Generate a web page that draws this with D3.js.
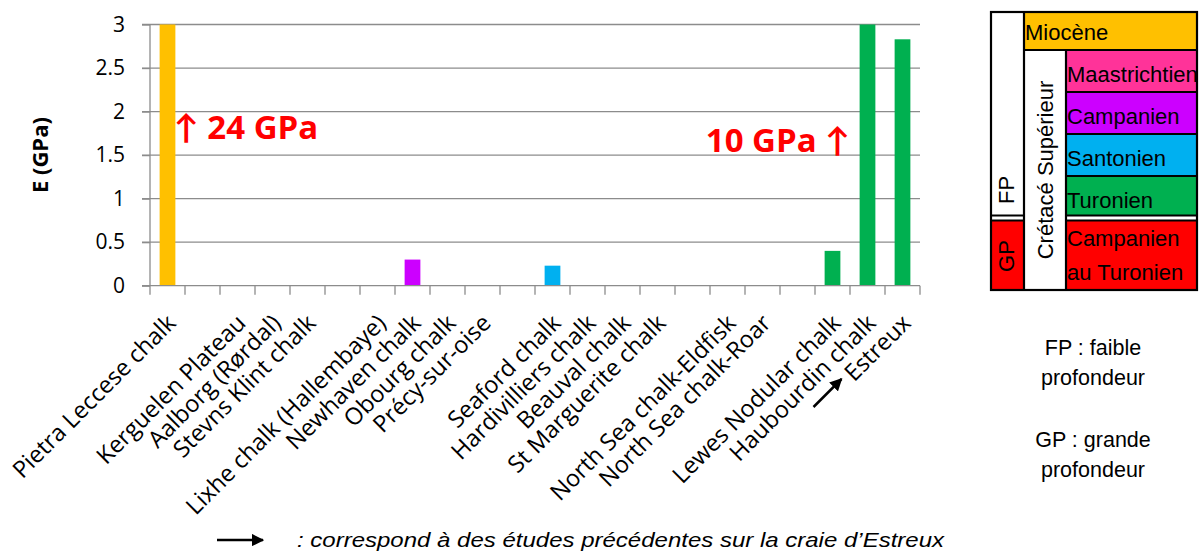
<!DOCTYPE html>
<html><head><meta charset="utf-8">
<script src="https://cdn.jsdelivr.net/npm/d3@7"></script>
<style>body{margin:0;background:#fff;overflow:hidden}</style>
</head><body>
<svg id="c" width="1199" height="553"></svg>
<script>
// ---- data ----
const categories = ["Pietra Leccese chalk", "", "Kerguelen Plateau", "Aalborg (Rørdal)", "Stevns Klint chalk", "",
  "Lixhe chalk (Hallembaye)", "Newhaven chalk", "Obourg chalk", "Précy-sur-oise", "",
  "Seaford chalk", "Hardivilliers chalk", "Beauval chalk", "St Marguerite chalk", "",
  "North Sea chalk-Eldfisk", "North Sea chalk-Roar", "", "Lewes Nodular chalk", "Haubourdin chalk", "Estreux"];
const values = [24, null, null, null, null, null, null, 0.3, null, null, null, 0.23, null, null, null, null, null, null, null, 0.4, 10, 2.83];
const barStages = ["Miocène", null, null, null, null, null, null, "Campanien", null, null, null, "Santonien", null, null, null, null, null, null, null, "Turonien", "Turonien", "Turonien"];
const yTicks = [0, 0.5, 1, 1.5, 2, 2.5, 3];
const yTickLabels = ["0", "0.5", "1", "1.5", "2", "2.5", "3"];
const stageNames = ["Miocène", "Maastrichtien", "Campanien", "Santonien", "Turonien", "Campanien au Turonien"];
const stageColors = ["#FFC000", "#FF3399", "#CC00FF", "#00B0F0", "#00B050", "#FF0000"];
const annotations = ["↑ 24 GPa", "10 GPa ↑"];
const depthNotes = [["FP : faible", "profondeur"], ["GP : grande", "profondeur"]];
const footnote = ": correspond à des études précédentes sur la craie d’Estreux";

// ---- layout ----
const svg = d3.select("#c");
const pLeft = 150, pRight = 920, pTop = 24.5, pBottom = 285.7;
const x = d3.scaleBand().domain(d3.range(categories.length)).range([pLeft, pRight]).paddingInner(0.55).paddingOuter(0.275);
const xb = d3.scaleBand().domain(d3.range(categories.length)).range([pLeft, pRight]);
const y = d3.scaleLinear().domain([0, 3]).range([pBottom, pTop]).clamp(true);
const color = d3.scaleOrdinal().domain(stageNames).range(stageColors);
const chartFont = "'Open Sans', Lato, sans-serif";
const arial = "'Liberation Sans', Arial, sans-serif";

// gridlines
svg.append("g").selectAll("line").data(yTicks.filter(d => d > 0)).join("line")
  .attr("x1", pLeft - 8).attr("x2", pRight)
  .attr("y1", d => y(d)).attr("y2", d => y(d))
  .attr("stroke", "#8c8c8c").attr("stroke-width", 1.3);

// y axis
const yAxis = d3.axisLeft(y).tickValues(yTicks).tickFormat((d, i) => yTickLabels[i]).tickSize(8).tickPadding(17);
const gy = svg.append("g").attr("transform", `translate(${pLeft},0)`).call(yAxis);
gy.select(".domain").attr("stroke", "#8c8c8c").attr("stroke-width", 1.3).attr("d", `M0,${pTop}V${pBottom}`);
gy.selectAll(".tick line").attr("stroke", "#8c8c8c").attr("stroke-width", 1.3);
gy.selectAll(".tick text").attr("font-family", chartFont).attr("font-size", 21).attr("fill", "#000");

// bars
svg.append("g").selectAll("rect").data(values.map((v, i) => ({v, i})).filter(d => d.v != null)).join("rect")
  .attr("x", d => x(d.i)).attr("width", x.bandwidth())
  .attr("y", d => y(d.v)).attr("height", d => y(0) - y(d.v))
  .attr("fill", d => color(barStages[d.i]));

// x axis
const gx = svg.append("g").attr("transform", `translate(0,${pBottom})`);
gx.append("line").attr("x1", pLeft - 8).attr("x2", pRight).attr("y1", 0).attr("y2", 0)
  .attr("stroke", "#8c8c8c").attr("stroke-width", 1.3);
gx.selectAll("line.t").data(d3.range(categories.length + 1)).join("line").attr("class", "t")
  .attr("x1", i => pLeft + i * xb.step()).attr("x2", i => pLeft + i * xb.step())
  .attr("y1", 0).attr("y2", 9).attr("stroke", "#8c8c8c").attr("stroke-width", 1.3);
gx.selectAll("text").data(categories.map((c, i) => ({c, i}))).join("text")
  .attr("transform", d => `translate(${xb(d.i) + xb.bandwidth() / 2 - 2},${27}) rotate(-45)`)
  .attr("text-anchor", "end").attr("dy", "0.71em")
  .attr("font-family", chartFont).attr("font-size", 23.5).attr("fill", "#000")
  .text(d => d.c);

// y title
svg.append("text").attr("transform", `translate(48,${(pTop + pBottom) / 2}) rotate(-90)`)
  .attr("text-anchor", "middle").attr("font-family", chartFont).attr("font-weight", "bold")
  .attr("font-size", 22).text("E (GPa)");

// annotations
svg.append("text").attr("x", 174).attr("y", 139).attr("font-family", chartFont).attr("font-weight", "bold")
  .attr("font-size", 33).attr("fill", "#FF0000").text(annotations[0]);
svg.append("text").attr("x", 850).attr("y", 152).attr("text-anchor", "end").attr("font-family", chartFont).attr("font-weight", "bold")
  .attr("font-size", 33).attr("fill", "#FF0000").text(annotations[1]);

// arrow marker
svg.append("defs").append("marker").attr("id", "ah").attr("viewBox", "0 0 10 10")
  .attr("refX", 9).attr("refY", 5).attr("markerWidth", 5).attr("markerHeight", 5)
  .attr("markerUnits", "strokeWidth").attr("orient", "auto")
  .append("path").attr("d", "M0,0L10,5L0,10z").attr("fill", "#000");
const estX = xb(21) + xb.bandwidth() / 2;
svg.append("line").attr("x1", estX - 89).attr("y1", 407).attr("x2", estX - 61).attr("y2", 379)
  .attr("stroke", "#000").attr("stroke-width", 2.5).attr("marker-end", "url(#ah)");
svg.append("line").attr("x1", 217).attr("y1", 540).attr("x2", 263).attr("y2", 540)
  .attr("stroke", "#000").attr("stroke-width", 2.5).attr("marker-end", "url(#ah)");
svg.append("text").attr("x", 297).attr("y", 547).attr("font-family", arial).attr("font-style", "italic")
  .attr("font-size", 21).attr("fill", "#000").attr("textLength", 647).attr("lengthAdjust", "spacingAndGlyphs")
  .text(footnote);

// ---- legend table ----
const L = svg.append("g");
const c0 = 991, c1 = 1024, c2 = 1066, c3 = 1197;
const rows = [12, 50, 92, 134, 176, 218, 290];
const lw = 2.2, gap = 2.5;
L.append("rect").attr("x", c0).attr("y", rows[0]).attr("width", c3 - c0).attr("height", rows[6] - rows[0]).attr("fill", "#fff");
L.append("rect").attr("x", c0).attr("y", rows[5] + gap).attr("width", c1 - c0).attr("height", rows[6] - rows[5] - gap).attr("fill", "#FF0000");
L.append("rect").attr("x", c1).attr("y", rows[0]).attr("width", c3 - c1).attr("height", rows[1] - rows[0]).attr("fill", color(stageNames[0]));
stageNames.slice(1).forEach((s, i) => {
  const y0 = rows[i + 1] + (i === 4 ? gap : 0), y1 = rows[i + 2] - (i === 3 ? gap : 0);
  L.append("rect").attr("x", c2).attr("y", y0).attr("width", c3 - c2).attr("height", y1 - y0).attr("fill", color(s));
});
const stroke = (x1, y1, x2, y2) => L.append("line").attr("x1", x1).attr("y1", y1).attr("x2", x2).attr("y2", y2)
  .attr("stroke", "#000").attr("stroke-width", lw);
L.append("rect").attr("x", c0).attr("y", rows[0]).attr("width", c3 - c0).attr("height", rows[6] - rows[0])
  .attr("fill", "none").attr("stroke", "#000").attr("stroke-width", lw);
stroke(c1, rows[0], c1, rows[6]);
stroke(c2, rows[1], c2, rows[6]);
stroke(c1, rows[1], c3, rows[1]);
[2, 3, 4].forEach(r => stroke(c2, rows[r], c3, rows[r]));
[rows[5] - gap, rows[5] + gap].forEach(yy => { stroke(c0, yy, c1, yy); stroke(c2, yy, c3, yy); });
const lt = (t, xx, yy) => L.append("text").attr("x", xx).attr("y", yy).attr("font-family", arial)
  .attr("font-size", 22).attr("fill", "#000").text(t);
lt(stageNames[0], c1 + 1, 40);
lt(stageNames[1], c2 + 1, 82);
lt(stageNames[2], c2 + 1, 124);
lt(stageNames[3], c2 + 1, 166);
lt(stageNames[4], c2 + 1, 208);
lt("Campanien", c2 + 1, 246);
lt("au Turonien", c2 + 1, 280);
L.append("text").attr("transform", `translate(1014,190) rotate(-90)`)
  .attr("text-anchor", "middle").attr("font-family", arial).attr("font-size", 22).text("FP");
L.append("text").attr("transform", `translate(1014,${(rows[5] + rows[6]) / 2 + 2}) rotate(-90)`)
  .attr("text-anchor", "middle").attr("font-family", arial).attr("font-size", 22).text("GP");
L.append("text").attr("transform", `translate(1053,${(rows[1] + rows[6]) / 2}) rotate(-90)`)
  .attr("text-anchor", "middle").attr("font-family", arial).attr("font-size", 22).text("Crétacé Supérieur");

depthNotes.forEach((lines, k) => {
  lines.forEach((t, j) => {
    svg.append("text").attr("x", 1093).attr("y", 355 + k * 92 + j * 30).attr("text-anchor", "middle")
      .attr("font-family", arial).attr("font-size", 21.5).attr("fill", "#000").text(t);
  });
});
</script>
</body></html>
